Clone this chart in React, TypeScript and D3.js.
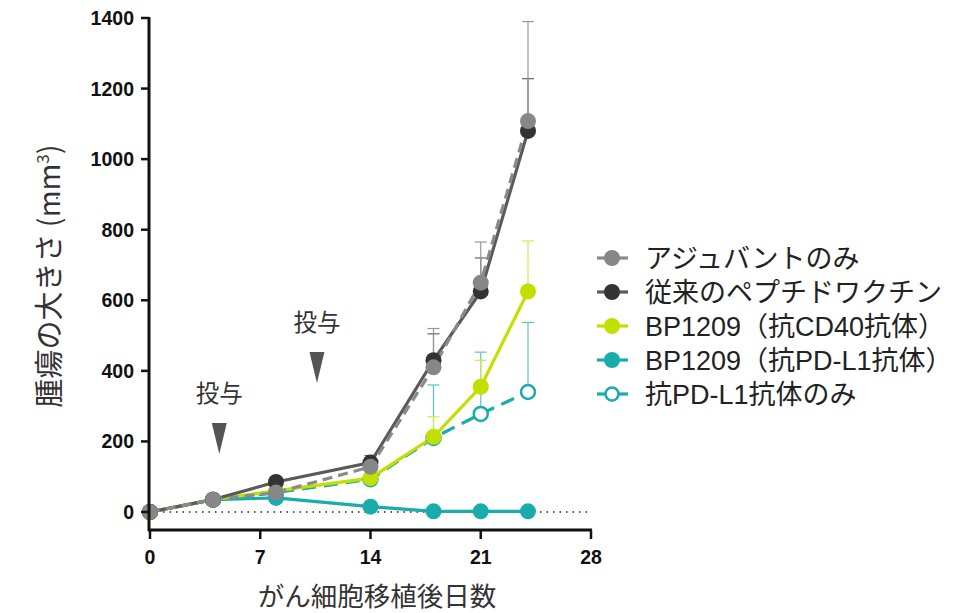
import React from "react";
import * as d3 from "d3";

const days = [0, 4, 8, 14, 18, 21, 24];
const adjuvant = [0, 35, 55, 128, 410, 650, 1108];
const adjuvantErr = [0, 0, 0, 150, 520, 765, 1390];
const conventional = [0, 35, 85, 140, 430, 625, 1080];
const conventionalErr = [0, 0, 0, 160, 505, 720, 1228];
const cd40 = [0, 35, 60, 96, 213, 355, 625];
const cd40Err = [0, 0, 0, 0, 270, 430, 768];
const bpPdl1 = [0, 35, 40, 15, 2, 2, 2];
const pdl1Only = [0, 35, 55, 93, 210, 278, 340];
const pdl1OnlyErr = [0, 0, 0, 0, 360, 453, 537];
const xTicks = [0, 7, 14, 21, 28];
const yTicks = [0, 200, 400, 600, 800, 1000, 1200, 1400];
const legendLabels = [
  "アジュバントのみ",
  "従来のペプチドワクチン",
  "BP1209（抗CD40抗体）",
  "BP1209（抗PD-L1抗体）",
  "抗PD-L1抗体のみ",
];
const doses = [4.4, 10.6];
const doseLabel = "投与";

type S = {
  vals: number[];
  err: number[] | null;
  line: string;
  fill: string;
  stroke: string;
  errColor: string;
  dash: string | null;
  open: boolean;
};

export default function App() {
  const x = d3.scaleLinear().domain([0, 28]).range([150, 591]);
  const y = d3.scaleLinear().domain([0, 1400]).range([512, 18]);
  const line = d3
    .line<number>()
    .x((_, i) => x(days[i]))
    .y((v) => y(v));

  const series: S[] = [
    { vals: pdl1Only, err: pdl1OnlyErr, line: "#1aabab", fill: "#fff", stroke: "#1aabab", errColor: "#5cc3c3", dash: "14,8", open: true },
    { vals: bpPdl1, err: null, line: "#1aabab", fill: "#1aabab", stroke: "#1aabab", errColor: "#1aabab", dash: null, open: false },
    { vals: cd40, err: cd40Err, line: "#c3df00", fill: "#c3df00", stroke: "#c3df00", errColor: "#d2e84a", dash: null, open: false },
    { vals: conventional, err: conventionalErr, line: "#5a5a5a", fill: "#333333", stroke: "#333333", errColor: "#666", dash: null, open: false },
    { vals: adjuvant, err: adjuvantErr, line: "#8a8a8a", fill: "#878787", stroke: "#878787", errColor: "#999", dash: "10,6", open: false },
  ];
  const legendOrder = [4, 3, 2, 1, 0];
  const fontJP = "'Noto Sans CJK JP', 'Noto Sans', sans-serif";
  const fontLeg = "'Liberation Sans', 'Noto Sans CJK JP', sans-serif";
  const fontNum = "'Liberation Sans', Arial, sans-serif";

  return (
    <svg width={955} height={613} style={{ position: "absolute", left: 0, top: 0, background: "#fff" }}>
      {/* zero dotted line */}
      <line x1={x(0)} x2={x(28)} y1={y(0)} y2={y(0)} stroke="#222" strokeWidth={1.6} strokeDasharray="1.5,5" />
      {/* error bars */}
      {series.map((s, si) =>
        s.err
          ? s.err.map((e, i) =>
              e > s.vals[i] ? (
                <g key={`e${si}-${i}`} stroke={s.errColor} strokeWidth={1.2}>
                  <line x1={x(days[i])} x2={x(days[i])} y1={y(s.vals[i])} y2={y(e)} />
                  <line x1={x(days[i]) - 6} x2={x(days[i]) + 6} y1={y(e)} y2={y(e)} />
                </g>
              ) : null
            )
          : null
      )}
      {/* lines */}
      {series.map((s, si) => (
        <path key={`l${si}`} d={line(s.vals) || ""} fill="none" stroke={s.line} strokeWidth={3.2} strokeDasharray={s.dash || undefined} />
      ))}
      {/* markers */}
      {series.map((s, si) =>
        s.vals.map((v, i) => (
          <circle
            key={`m${si}-${i}`}
            cx={x(days[i])}
            cy={y(v)}
            r={s.open ? 7 : 8}
            fill={s.fill}
            stroke={s.stroke}
            strokeWidth={s.open ? 2.5 : 0}
          />
        ))
      )}
      {/* axes */}
      <line x1={149} x2={149} y1={17} y2={531} stroke="#111" strokeWidth={3} />
      <line x1={148} x2={592} y1={530} y2={530} stroke="#111" strokeWidth={3} />
      {yTicks.map((t) => (
        <g key={`yt${t}`}>
          <line x1={141} x2={149} y1={y(t)} y2={y(t)} stroke="#111" strokeWidth={2.5} />
          <text x={134} y={y(t)} dy="0.36em" textAnchor="end" fontFamily={fontNum} fontWeight="bold" fontSize={19.5} fill="#111">
            {t}
          </text>
        </g>
      ))}
      {xTicks.map((t) => (
        <g key={`xt${t}`}>
          <line x1={x(t)} x2={x(t)} y1={530} y2={539} stroke="#111" strokeWidth={2.5} />
          <text x={x(t)} y={564} textAnchor="middle" fontFamily={fontNum} fontWeight="bold" fontSize={19.5} fill="#111">
            {t}
          </text>
        </g>
      ))}
      <text x={377} y={606} textAnchor="middle" fontFamily={fontJP} fontSize={26.5} fill="#333">
        がん細胞移植後日数
      </text>
      <text transform="translate(60,276) rotate(-90)" textAnchor="middle" fontFamily={fontJP} fontSize={29} fill="#333">
        腫瘍の大きさ (mm<tspan dy={-11} fontSize={17}>3</tspan><tspan dy={11}>)</tspan>
      </text>
      <rect x={56} y={197} width={2} height={2} fill="#666" />
      {/* dosing markers */}
      {doses.map((d, i) => {
        const cx = x(d);
        const ty = i === 0 ? 423 : 352;
        return (
          <g key={`d${i}`}>
            <text x={cx} y={ty - 21} textAnchor="middle" fontFamily={fontJP} fontSize={23.5} fill="#333">
              {doseLabel}
            </text>
            <path d={`M${cx - 7.5},${ty} L${cx + 7.5},${ty} L${cx},${ty + 31} Z`} fill="#555" />
          </g>
        );
      })}
      {/* legend */}
      {legendOrder.map((si, k) => {
        const s = series[si];
        const ly = 258 + k * 34;
        return (
          <g key={`lg${k}`}>
            <line x1={597} x2={628} y1={ly} y2={ly} stroke={s.line} strokeWidth={3.2} />
            <circle cx={612} cy={ly} r={s.open ? 6.5 : 8} fill={s.fill} stroke={s.stroke} strokeWidth={s.open ? 2.5 : 0} />
            <text x={645} y={ly} dy="0.36em" fontFamily={fontLeg} fontSize={27} fill="#222">
              {legendLabels[k]}
            </text>
          </g>
        );
      })}
    </svg>
  );
}
